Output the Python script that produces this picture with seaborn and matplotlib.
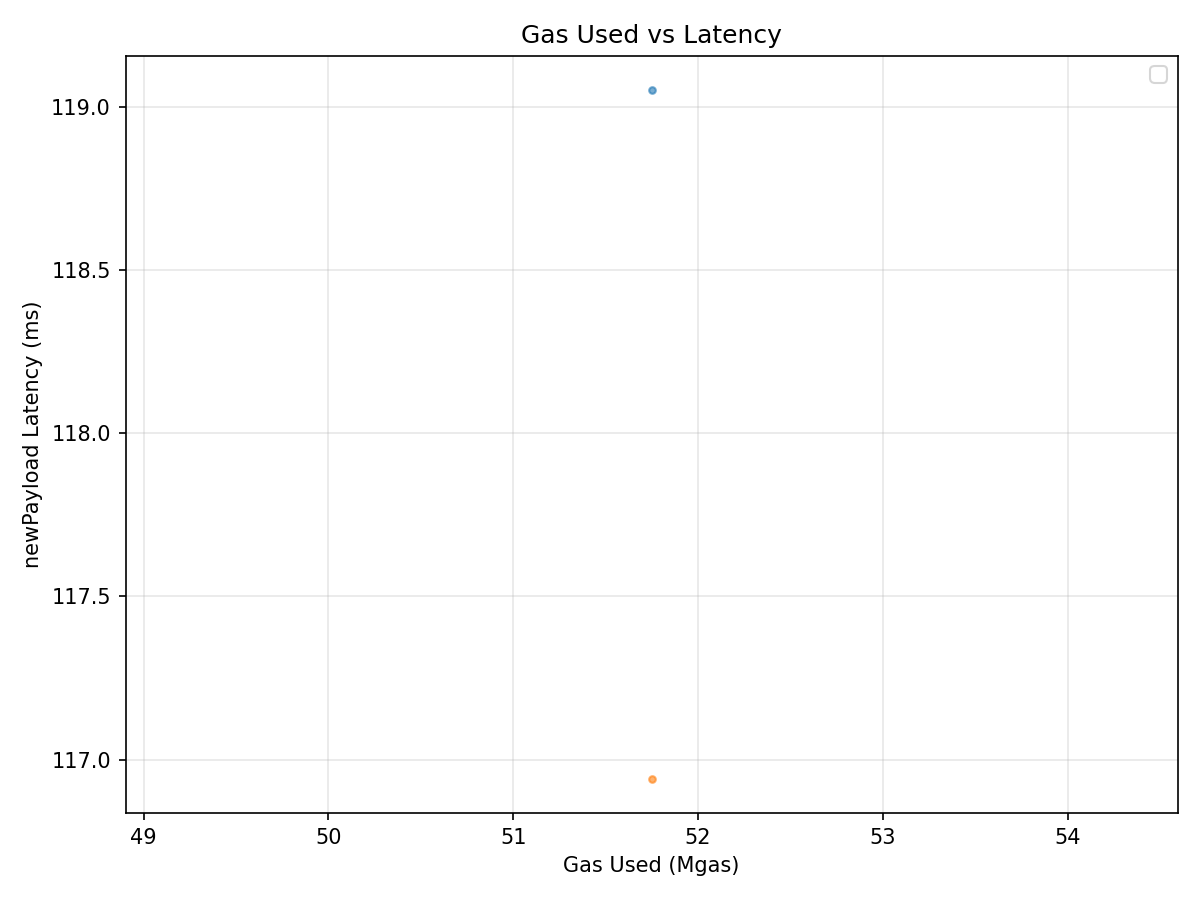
import matplotlib
matplotlib.use("Agg")
import matplotlib.pyplot as plt
import seaborn as sns
import numpy as np

series_a_gas = [51.748]
series_a_latency = [119.052]
series_b_gas = [51.748]
series_b_latency = [116.942]

fig, ax = plt.subplots(figsize=(8, 6), dpi=150)
sns.scatterplot(x=series_a_gas, y=series_a_latency, ax=ax, color="#1f77b4",
                alpha=0.6, s=10, linewidth=1, edgecolor="face")
sns.scatterplot(x=series_b_gas, y=series_b_latency, ax=ax, color="#ff7f0e",
                alpha=0.6, s=10, linewidth=1, edgecolor="face")
ax.set_title("Gas Used vs Latency")
ax.set_xlabel("Gas Used (Mgas)")
ax.set_ylabel("newPayload Latency (ms)")
ax.grid(True, alpha=0.3)
ax.legend(handles=[])
fig.subplots_adjust(left=125.5 / 1200, right=1177.5 / 1200,
                    top=1 - 55.5 / 900, bottom=1 - 813 / 900)
fig.savefig("out.png", dpi=150)
